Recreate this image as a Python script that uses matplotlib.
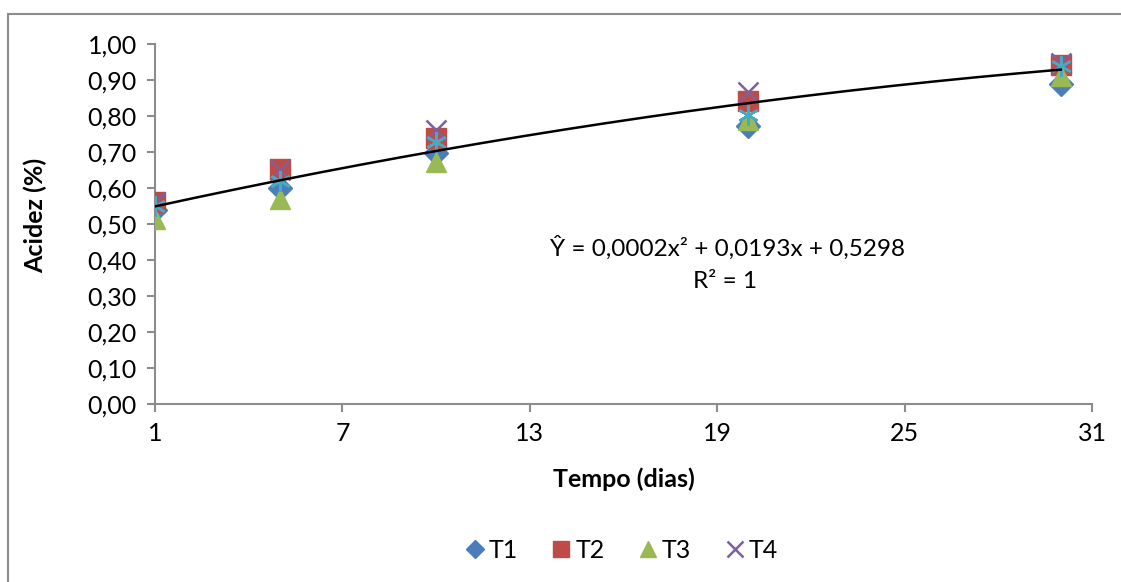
import matplotlib
matplotlib.use("Agg")
import matplotlib.pyplot as plt
import numpy as np
from matplotlib.patches import Rectangle

plt.rcParams['font.family'] = ['Lato', 'DejaVu Sans']

days = [1, 5, 10, 20, 30]
t1 = [0.54, 0.60, 0.697, 0.772, 0.89]
t2 = [0.561, 0.653, 0.739, 0.842, 0.942]
t3 = [0.514, 0.57, 0.672, 0.79, 0.91]
t4 = [0.56, 0.65, 0.761, 0.867, 0.947]
mean = [0.549, 0.62, 0.728, 0.803, 0.94]
coef = [-0.0002, 0.0193, 0.5298]
eq_text = "Ŷ = 0,0002x² + 0,0193x + 0,5298"
r2_text = "R² = 1"
xticks = [1, 7, 13, 19, 25, 31]
yticks = [0.0, 0.1, 0.2, 0.3, 0.4, 0.5, 0.6, 0.7, 0.8, 0.9, 1.0]

W, H = 1121, 582
fig = plt.figure(figsize=(W / 100, H / 100), dpi=100)
fig.patches.append(Rectangle((8 / W, -0.1), 1.2, (582 - 14) / H + 0.1, transform=fig.transFigure,
                             fill=False, edgecolor='#8c8c8c', linewidth=1.5))
ax = fig.add_axes([155 / W, (582 - 404) / H, (1092 - 155) / W, (404 - 44) / H])

ax.plot(days, t1, linestyle='none', marker='D', markersize=12, color='#4a7ebb', label='T1', zorder=3)
ax.plot(days, t2, linestyle='none', marker='s', markersize=14, color='#be4b48', label='T2', zorder=4)
ax.plot(days, t3, linestyle='none', marker='^', markersize=15, color='#98b954', label='T3', zorder=5)
ax.plot(days, t4, linestyle='none', marker='x', markersize=14, markeredgewidth=1.8, color='#7d60a0', label='T4', zorder=6)
ax.plot(days, mean, linestyle='none', marker=(6, 2, 0), markersize=15, markeredgewidth=1.8, color='#46aac5', zorder=7)

xs = np.linspace(1, 30, 200)
ax.plot(xs, np.polyval(coef, xs), color='black', linewidth=1.8, zorder=8)

ax.set_xlim(1, 31)
ax.set_ylim(0, 1.0)
ax.set_xticks(xticks)
ax.set_xticklabels([str(v) for v in xticks])
ax.set_yticks(yticks)
ax.set_yticklabels([f"{v:.2f}".replace('.', ',') for v in yticks])
ax.tick_params(axis='both', labelsize=18, color='#8c8c8c', length=6, width=1.5)
ax.tick_params(axis='x', pad=7)
ax.tick_params(axis='y', pad=7)
for s in ['top', 'right']:
    ax.spines[s].set_visible(False)
for s in ['left', 'bottom']:
    ax.spines[s].set_color('#8c8c8c')
    ax.spines[s].set_linewidth(1.5)

fig.text(35 / W, 1 - 215 / H, 'Acidez (%)', fontsize=18, fontweight='bold', ha='center', va='center', rotation=90)
fig.text(624 / W, 1 - 479 / H, 'Tempo (dias)', fontsize=18, fontweight='bold', ha='center', va='center')

ax.text(727 / W, 1 - 248 / H, eq_text, transform=fig.transFigure, fontsize=17.5, ha='center', va='center')
ax.text(725 / W, 1 - 281 / H, r2_text, transform=fig.transFigure, fontsize=17.5, ha='center', va='center')

fig.legend(loc='center', bbox_to_anchor=(620 / W, 1 - 550 / H), ncol=4, frameon=False,
           fontsize=18, handletextpad=0.05, columnspacing=1.25, handlelength=1.0, markerscale=0.8)

fig.savefig('out.png', dpi=100)
